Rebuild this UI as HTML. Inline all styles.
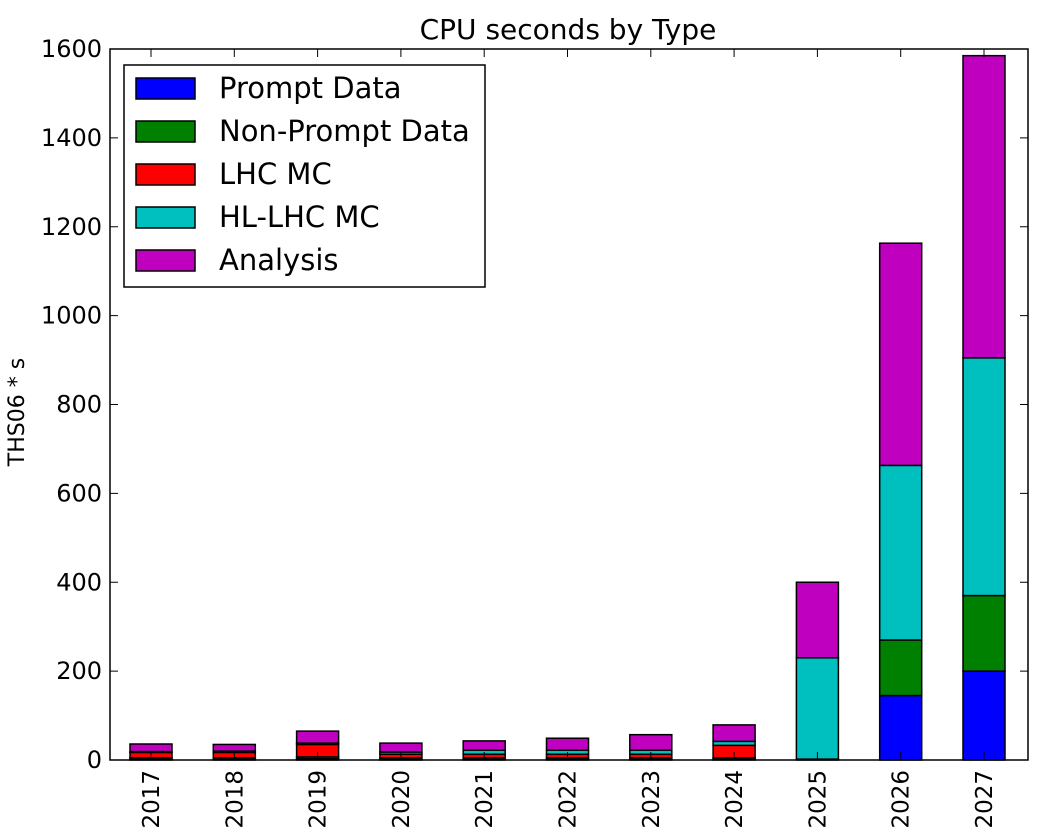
<!DOCTYPE html>
<html><head><meta charset="utf-8"><style>
body{margin:0;background:#fff;width:1063px;height:834px;overflow:hidden}
svg text{font-family:"DejaVu Sans","Liberation Sans",sans-serif;fill:#000}
</style></head><body>
<svg id="chart" width="1063" height="834"></svg>
<script>
const categories=["2017","2018","2019","2020","2021","2022","2023","2024","2025","2026","2027"];
const promptData=[2,2,3,2,2,2,2,2,0,145,200];
const nonPromptData=[3,3,4,3,3,3,3,3,2,125,170];
const lhcMC=[12,12,28,8,8,8,8,28,0,0,0];
const hlLhcMC=[2,3,3,5,9,9,9,9,228,393,535];
const analysis=[17,15,27,20,21,27,35,37,170,500,680];
const yTicks=[0,200,400,600,800,1000,1200,1400,1600];
const seriesNames=["Prompt Data","Non-Prompt Data","LHC MC","HL-LHC MC","Analysis"];
const seriesColors=["#0000ff","#008000","#ff0000","#00bfbf","#bf00bf"];
const series=[promptData,nonPromptData,lhcMC,hlLhcMC,analysis];

const NS="http://www.w3.org/2000/svg";
const svg=document.getElementById('chart');
const L=110,R=1028,T=49,B=760;
const y=v=>B-(v/1600)*(B-T);
const x=i=>151+i*83.3;
const bw=42;
function el(t,a,p){const e=document.createElementNS(NS,t);for(const k in a)e.setAttribute(k,a[k]);(p||svg).appendChild(e);return e;}

categories.forEach((c,i)=>{
  let base=0;
  series.forEach((s,k)=>{
    const v=s[i];
    const r=el('rect',{x:x(i)-bw/2,y:y(base+v),width:bw,height:y(base)-y(base+v),fill:seriesColors[k],stroke:'#000','stroke-width':1.5});
    
    
    base+=v;
  });
});
const fr=el('rect',{x:L,y:T,width:R-L,height:B-T,fill:'none',stroke:'#000','stroke-width':1.5});


yTicks.forEach(t=>{
  el('line',{x1:L,x2:L+8,y1:y(t),y2:y(t),stroke:'#000'});
  el('line',{x1:R,x2:R-8,y1:y(t),y2:y(t),stroke:'#000'});
  const tx=el('text',{x:L-8,y:y(t)+8,'text-anchor':'end','font-size':24});
  tx.textContent=t;
  
  
});
categories.forEach((c,i)=>{
  el('line',{x1:x(i),x2:x(i),y1:B,y2:B-8,stroke:'#000'});
  el('line',{x1:x(i),x2:x(i),y1:T,y2:T+8,stroke:'#000'});
  const tx=el('text',{transform:`translate(${x(i)+8},${B+10}) rotate(-90)`,'text-anchor':'end','font-size':23});
  tx.textContent=c;
  
  
});
const ti=el('text',{x:568,y:39,'text-anchor':'middle','font-size':28});
ti.textContent="CPU seconds by Type";


const yl=el('text',{transform:'translate(24,412) rotate(-90)','text-anchor':'middle','font-size':22});
yl.textContent="THS06 * s";


const lg=el('g',{});


el('rect',{x:124,y:65,width:361,height:222,fill:'#fff',stroke:'#000','stroke-width':1.5},lg);
seriesNames.forEach((n,k)=>{
  const g=el('g',{},lg);
  
  
  const cy=88+k*43;
  el('rect',{x:136,y:cy-10,width:59,height:21,fill:seriesColors[k],stroke:'#000','stroke-width':1.5},g);
  const t=el('text',{x:219,y:cy+10,'font-size':29},g);
  t.textContent=n;
});
</script>
</body></html>
